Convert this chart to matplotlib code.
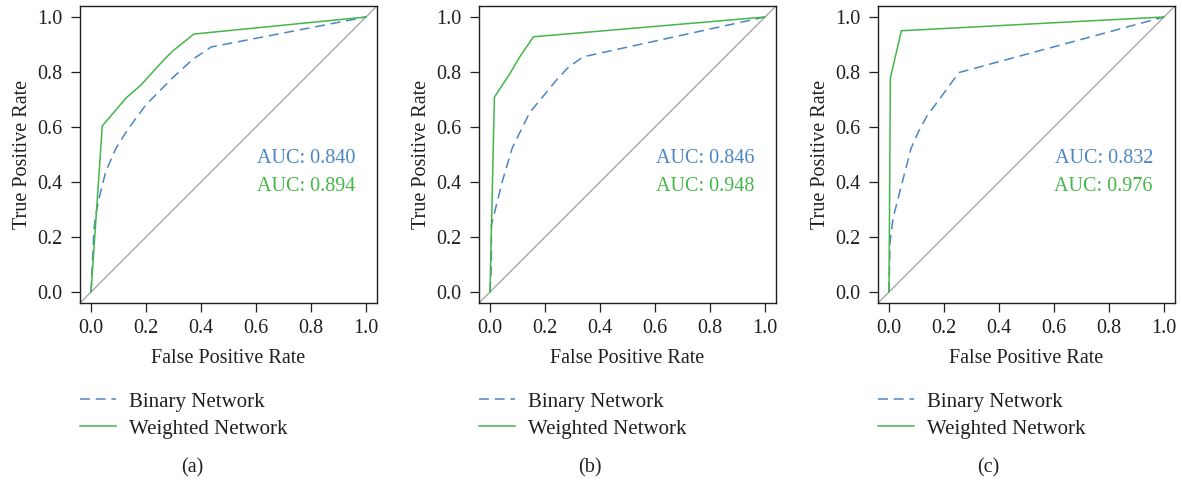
import matplotlib
matplotlib.use("Agg")
import matplotlib.pyplot as plt

plt.rcParams['font.family'] = ['Liberation Serif', 'DejaVu Serif']
plt.rcParams['font.size'] = 14.5

# ---- data ----
fpr_bin_a = [0.0, 0.011, 0.017, 0.029, 0.054, 0.090, 0.133, 0.200, 0.297, 0.370, 0.437, 1.0]
tpr_bin_a = [0.0, 0.230, 0.279, 0.340, 0.439, 0.521, 0.590, 0.681, 0.779, 0.846, 0.891, 1.0]
fpr_wt_a = [0.0, 0.041, 0.128, 0.182, 0.261, 0.298, 0.374, 1.0]
tpr_wt_a = [0.0, 0.604, 0.706, 0.753, 0.840, 0.877, 0.938, 1.0]

fpr_bin_b = [0.0, 0.005, 0.005, 0.023, 0.045, 0.081, 0.144, 0.192, 0.241, 0.283, 0.338, 1.0]
tpr_bin_b = [0.0, 0.096, 0.242, 0.315, 0.403, 0.524, 0.652, 0.710, 0.770, 0.815, 0.855, 1.0]
fpr_wt_b = [0.0, 0.016, 0.071, 0.107, 0.158, 1.0]
tpr_wt_b = [0.0, 0.709, 0.792, 0.853, 0.928, 1.0]

fpr_bin_c = [0.0, 0.004, 0.015, 0.033, 0.080, 0.108, 0.138, 0.187, 0.254, 1.0]
tpr_bin_c = [0.0, 0.183, 0.270, 0.340, 0.522, 0.585, 0.640, 0.706, 0.798, 1.0]
fpr_wt_c = [0.0, 0.005, 0.011, 0.045, 1.0]
tpr_wt_c = [0.0, 0.780, 0.804, 0.950, 1.0]

auc_bin = ["0.840", "0.846", "0.832"]
auc_wt = ["0.894", "0.948", "0.976"]
panel_labels = ["(a)", "(b)", "(c)"]
series_names = ["Binary Network", "Weighted Network"]
ticks = [0.0, 0.2, 0.4, 0.6, 0.8, 1.0]
tick_labels = ["0.0", "0.2", "0.4", "0.6", "0.8", "1.0"]

panels = [
    (fpr_bin_a, tpr_bin_a, fpr_wt_a, tpr_wt_a),
    (fpr_bin_b, tpr_bin_b, fpr_wt_b, tpr_wt_b),
    (fpr_bin_c, tpr_bin_c, fpr_wt_c, tpr_wt_c),
]

BLUE = "#4a86c5"
GREEN = "#45b649"
GRAY = "#a0a0a0"
DARK = "#231f20"

W, H = 1182, 480
fig = plt.figure(figsize=(W / 100, H / 100), dpi=100)

lefts = [80, 479, 878]
caption_x = [192, 590, 988]
box_w = 297
box_top, box_bot = 6, 303

for i, (fb, tb, fw, tw) in enumerate(panels):
    ax = fig.add_axes([lefts[i] / W, 1 - box_bot / H, box_w / W, (box_bot - box_top) / H])
    ax.set_xlim(-0.04, 1.04)
    ax.set_ylim(-0.04, 1.04)
    ax.plot([-0.04, 1.04], [-0.04, 1.04], color=GRAY, lw=0.9, zorder=1)
    lb, = ax.plot(fb, tb, color=BLUE, lw=1.1, dashes=(6.5, 3.8), zorder=2)
    lw_, = ax.plot(fw, tw, color=GREEN, lw=1.1, zorder=3)
    ax.set_xticks(ticks)
    ax.set_xticklabels(tick_labels)
    ax.set_yticks(ticks)
    ax.set_yticklabels(tick_labels)
    ax.tick_params(direction='out', length=6.5, width=0.9, color=DARK,
                   labelcolor=DARK, labelsize=14.5)
    ax.tick_params(axis='y', pad=6)
    ax.tick_params(axis='x', pad=5)
    for s in ax.spines.values():
        s.set_color(DARK)
        s.set_linewidth(1.0)
    ax.set_xlabel("False Positive Rate", fontsize=14.5, color=DARK, labelpad=8)
    ax.set_ylabel("True Positive Rate", fontsize=14.5, color=DARK, labelpad=4)
    ax.text(0.96, 0.485, "AUC: " + auc_bin[i], color=BLUE, ha='right', va='center',
            fontsize=14.5, transform=ax.transData)
    ax.text(0.96, 0.383, "AUC: " + auc_wt[i], color=GREEN, ha='right', va='center',
            fontsize=14.5, transform=ax.transData)
    leg = ax.legend([lb, lw_], series_names, loc='upper left',
                    bbox_to_anchor=(lefts[i] / W, 1 - 392 / H),
                    bbox_transform=fig.transFigure, frameon=False,
                    borderpad=0, borderaxespad=0, handlelength=1.75,
                    handletextpad=0.62, labelspacing=0.36, fontsize=15)
    for t in leg.get_texts():
        t.set_color(DARK)
    fig.text(caption_x[i] / W, 1 - 468 / H, panel_labels[i], ha='center', va='center',
             fontsize=14.5, color=DARK)

fig.savefig("out.png", dpi=100)
